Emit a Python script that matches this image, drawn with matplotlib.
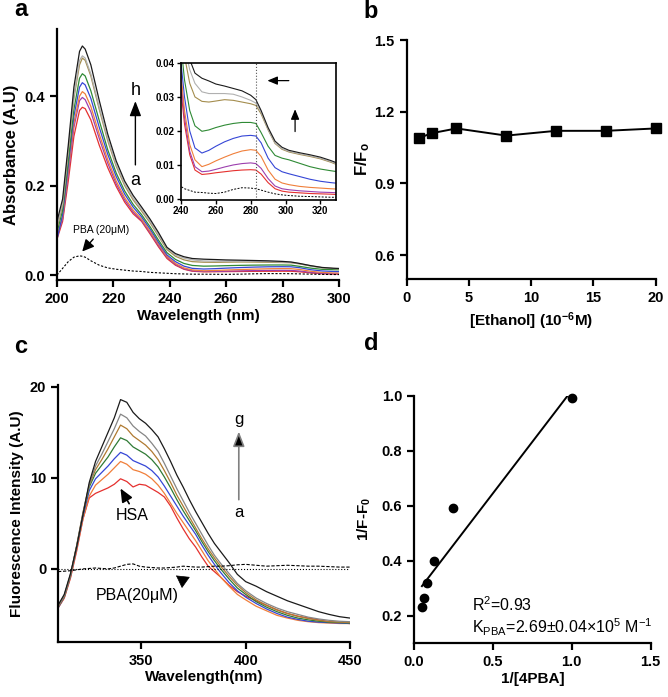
import matplotlib
matplotlib.use('Agg')
import matplotlib.pyplot as plt
import numpy as np

plt.rcParams['font.family'] = ['Liberation Sans', 'DejaVu Sans']
plt.rcParams['mathtext.fontset'] = 'custom'
plt.rcParams['mathtext.rm'] = 'Liberation Sans'
plt.rcParams['mathtext.bf'] = 'Liberation Sans:bold'
plt.rcParams['mathtext.it'] = 'Liberation Sans:italic'

# ---- panel a: UV-vis absorbance, curves a..h ----
wl_a = [200, 202, 204, 206, 208, 209, 210, 212, 215, 218, 221, 224, 227, 230, 233, 236, 239,
        242, 245, 248, 252, 256, 260, 265, 270, 275, 280, 283, 286, 290, 294, 298, 302, 308,
        314, 320, 326, 330]
abs_a = [0.08, 0.12, 0.21, 0.31, 0.368, 0.375, 0.372, 0.347, 0.29, 0.24, 0.198, 0.163, 0.137, 0.12,
         0.092, 0.063, 0.037, 0.022, 0.013, 0.0085, 0.0072, 0.0074, 0.0077, 0.008, 0.0083, 0.0085,
         0.0086, 0.0085, 0.0073, 0.0048, 0.003, 0.0023, 0.002, 0.0018, 0.0016, 0.0015, 0.0014, 0.0013]
abs_b = [0.085, 0.125, 0.225, 0.33, 0.39, 0.397, 0.392, 0.365, 0.305, 0.25, 0.204, 0.168, 0.141, 0.122,
         0.095, 0.066, 0.04, 0.024, 0.014, 0.0095, 0.008, 0.0082, 0.0087, 0.0094, 0.0100, 0.0104,
         0.0106, 0.0104, 0.009, 0.006, 0.0038, 0.003, 0.0027, 0.0024, 0.0022, 0.002, 0.0019, 0.0018]
abs_c = [0.085, 0.13, 0.235, 0.34, 0.40, 0.41, 0.405, 0.377, 0.315, 0.258, 0.21, 0.173, 0.145, 0.125,
         0.098, 0.069, 0.042, 0.026, 0.016, 0.0115, 0.0095, 0.0102, 0.0112, 0.0123, 0.0133, 0.0141,
         0.0145, 0.0143, 0.0125, 0.0085, 0.0058, 0.0047, 0.0042, 0.0037, 0.0034, 0.0032, 0.003, 0.0029]
abs_d = [0.08, 0.135, 0.245, 0.355, 0.42, 0.43, 0.425, 0.395, 0.33, 0.27, 0.22, 0.181, 0.152, 0.13,
         0.103, 0.073, 0.045, 0.03, 0.02, 0.015, 0.0135, 0.0143, 0.0155, 0.0168, 0.0178, 0.0185,
         0.0187, 0.0185, 0.0165, 0.012, 0.0092, 0.008, 0.0074, 0.0066, 0.0058, 0.0052, 0.0048, 0.0046]
abs_e = [0.095, 0.145, 0.255, 0.37, 0.44, 0.45, 0.445, 0.412, 0.345, 0.28, 0.228, 0.188, 0.158, 0.135,
         0.108, 0.078, 0.05, 0.035, 0.026, 0.0215, 0.0199, 0.0203, 0.021, 0.0217, 0.0222, 0.0225,
         0.0225, 0.0222, 0.0195, 0.0155, 0.0128, 0.012, 0.0115, 0.0105, 0.0095, 0.0088, 0.0083, 0.008]
abs_f = [0.105, 0.155, 0.275, 0.395, 0.47, 0.485, 0.48, 0.445, 0.37, 0.30, 0.243, 0.2, 0.168, 0.143,
         0.117, 0.087, 0.057, 0.042, 0.034, 0.030, 0.0287, 0.0285, 0.0288, 0.0292, 0.029, 0.0285,
         0.028, 0.0275, 0.025, 0.0203, 0.0163, 0.0146, 0.0138, 0.0131, 0.0125, 0.0118, 0.0108, 0.010]
abs_g = [0.11, 0.16, 0.28, 0.40, 0.48, 0.49, 0.485, 0.45, 0.375, 0.305, 0.247, 0.204, 0.172, 0.147,
         0.12, 0.09, 0.06, 0.045, 0.038, 0.034, 0.0315, 0.031, 0.031, 0.031, 0.0308, 0.030,
         0.029, 0.0282, 0.0255, 0.0205, 0.0165, 0.0148, 0.014, 0.0133, 0.0127, 0.012, 0.011, 0.0102]
abs_h = [0.12, 0.17, 0.29, 0.42, 0.50, 0.512, 0.505, 0.47, 0.39, 0.315, 0.255, 0.21, 0.178, 0.152,
         0.125, 0.095, 0.062, 0.048, 0.041, 0.037, 0.0355, 0.0347, 0.0338, 0.0332, 0.0325, 0.0318,
         0.0305, 0.0292, 0.026, 0.021, 0.017, 0.0152, 0.0143, 0.0136, 0.013, 0.0123, 0.0113, 0.0105]
abs_pba = [0.0, 0.015, 0.03, 0.04, 0.043, 0.042, 0.04, 0.032, 0.022, 0.016, 0.013, 0.011, 0.009, 0.008,
           0.006, 0.005, 0.004, 0.003, 0.0025, 0.002, 0.0019, 0.0017, 0.0016, 0.002, 0.0028, 0.0033,
           0.0032, 0.003, 0.0026, 0.002, 0.0015, 0.0012, 0.001, 0.0008, 0.0007, 0.0006, 0.0005, 0.0005]
abs_curves = [abs_a, abs_b, abs_c, abs_d, abs_e, abs_f, abs_g, abs_h]
abs_colors = ['#e5302e', '#9c3fae', '#f07f3a', '#3546d6', '#2f8a35', '#a48d4e', '#b0b0b0', '#1a1a1a']

# ---- panel b: ethanol control ----
ethanol = [1, 2, 4, 8, 12, 16, 20]
f_ratio = [1.09, 1.11, 1.13, 1.10, 1.12, 1.12, 1.13]

# ---- panel c: fluorescence, curves a..g ----
wl_c = [310, 313, 316, 319, 322, 325, 328, 331, 334, 337, 340, 343, 346, 349, 352, 355, 358, 361,
        364, 367, 370, 373, 376, 379, 382, 385, 388, 392, 396, 400, 405, 410, 415, 420, 425, 430,
        435, 440, 445, 450]
fl_a = [-4.3, -3.2, -1.0, 2.0, 5.5, 7.8, 8.3, 8.6, 8.9, 9.3, 9.9, 9.6, 9.0, 9.3, 9.2, 8.8, 8.4, 7.9,
        6.9, 5.6, 4.4, 3.3, 2.4, 1.3, 0.3, -0.3, -0.9, -1.8, -2.5, -3.0, -3.5, -4.0, -4.5, -4.9,
        -5.2, -5.4, -5.6, -5.8, -5.9, -6.0]
fl_b = [-4.3, -3.2, -0.9, 2.2, 5.5, 8.0, 9.2, 9.8, 10.4, 11.1, 11.8, 11.5, 10.9, 10.7, 10.4, 9.9,
        9.2, 8.3, 7.2, 6.1, 5.1, 4.1, 3.1, 2.0, 0.9, 0.0, -0.9, -1.9, -2.8, -3.4, -4.1, -4.6, -5.1,
        -5.4, -5.65, -5.8, -5.9, -5.95, -6.0, -6.0]
fl_c = [-4.3, -3.1, -0.8, 2.4, 5.8, 8.6, 9.9, 10.6, 11.3, 12.1, 12.8, 12.5, 11.9, 11.6, 11.3, 10.8,
        10.1, 9.1, 8.0, 6.9, 5.8, 4.8, 3.8, 2.6, 1.5, 0.5, -0.4, -1.5, -2.4, -3.1, -3.8, -4.4, -4.9,
        -5.3, -5.55, -5.75, -5.85, -5.9, -5.95, -6.0]
fl_d = [-4.2, -3.0, -0.7, 2.5, 6.0, 9.0, 10.5, 11.4, 12.3, 13.4, 14.4, 14.1, 13.4, 13.0, 12.6, 12.0,
        11.2, 10.1, 8.9, 7.6, 6.4, 5.3, 4.2, 3.0, 1.9, 0.9, 0.0, -1.1, -2.1, -2.8, -3.6, -4.2, -4.7,
        -5.1, -5.4, -5.6, -5.75, -5.85, -5.9, -5.95]
fl_e = [-4.2, -3.0, -0.7, 2.6, 6.2, 9.2, 10.9, 12.0, 13.2, 14.5, 15.8, 15.4, 14.6, 14.1, 13.6, 12.9,
        12.0, 10.8, 9.5, 8.1, 6.9, 5.7, 4.5, 3.3, 2.2, 1.2, 0.3, -0.8, -1.8, -2.6, -3.4, -4.0, -4.5,
        -4.9, -5.2, -5.45, -5.65, -5.8, -5.85, -5.9]
fl_f = [-4.1, -2.9, -0.6, 2.6, 6.2, 9.3, 11.3, 12.6, 14.0, 15.4, 17.0, 16.6, 15.7, 15.1, 14.6, 13.8,
        12.9, 11.6, 10.2, 8.8, 7.5, 6.2, 5.0, 3.8, 2.6, 1.5, 0.6, -0.5, -1.6, -2.4, -3.2, -3.8, -4.3,
        -4.7, -5.0, -5.3, -5.5, -5.65, -5.75, -5.8]
fl_g = [-4.0, -2.8, -0.5, 2.5, 6.0, 9.5, 11.8, 13.4, 15.0, 16.6, 18.6, 18.3, 17.2, 16.5, 16.0, 15.3,
        14.5, 13.2, 11.8, 10.3, 9.0, 7.6, 6.3, 5.1, 3.9, 2.8, 1.9, 0.7, -0.6, -1.4, -1.9, -2.5, -3.0,
        -3.5, -3.9, -4.3, -4.7, -5.0, -5.25, -5.4]
fl_pba = [-0.3, -0.25, -0.2, -0.1, 0.0, 0.05, 0.1, 0.05, 0.0, 0.1, 0.3, 0.5, 0.55, 0.3, 0.2, 0.15,
          0.1, 0.1, 0.15, 0.2, 0.3, 0.25, 0.2, 0.2, 0.25, 0.3, 0.3, 0.35, 0.45, 0.5, 0.4, 0.3, 0.35,
          0.4, 0.35, 0.3, 0.3, 0.25, 0.2, 0.2]
fl_curves = [fl_a, fl_b, fl_c, fl_d, fl_e, fl_f, fl_g]
fl_colors = ['#e5302e', '#f07f3a', '#3546d6', '#2f7a35', '#b07a30', '#858585', '#1a1a1a']

# ---- panel d: double reciprocal ----
inv_pba = [0.05, 0.0625, 0.083, 0.125, 0.25, 1.0]
inv_df = [0.23, 0.265, 0.32, 0.40, 0.59, 0.99]


def style_axes(ax, lw=1.6):
    for s in ['top', 'right']:
        ax.spines[s].set_visible(False)
    for s in ['left', 'bottom']:
        ax.spines[s].set_linewidth(lw)
    ax.tick_params(direction='out', width=lw, length=5, labelsize=10.5)
    for lab in ax.get_xticklabels() + ax.get_yticklabels():
        lab.set_fontweight('bold')


fig = plt.figure(figsize=(6.68, 6.97), dpi=100)

# panel a
ax1 = fig.add_axes([0.0853, 0.5983, 0.4222, 0.3601])
for y, c in zip(abs_curves, abs_colors):
    ax1.plot(wl_a, y, color=c, lw=0.9)
ax1.plot(wl_a, abs_pba, color='black', lw=0.8, ls=(0, (2, 1.5)))
ax1.set_xlim(200, 300)
ax1.set_ylim(-0.011, 0.55)
ax1.set_xticks([200, 220, 240, 260, 280, 300])
ax1.set_yticks([0.0, 0.2, 0.4])
ax1.set_xlabel('Wavelength (nm)', fontsize=11, fontweight='bold', labelpad=2)
ax1.set_ylabel('Absorbance (A.U)', fontsize=12, fontweight='bold', labelpad=4)
style_axes(ax1)
ax1.text(227.8, 0.412, 'h', fontsize=13, ha='center', va='center')
ax1.text(227.8, 0.212, 'a', fontsize=13, ha='center', va='center')
ax1.annotate('', xy=(227.8, 0.395), xytext=(227.8, 0.24),
             arrowprops=dict(arrowstyle='-|>,head_length=0.9,head_width=0.35', color='black', lw=1))
ax1.text(215.5, 0.10, 'PBA (20\u03bcM)', fontsize=7.5, ha='center', va='center')
ax1.annotate('', xy=(208.3, 0.048), xytext=(213.5, 0.085),
             arrowprops=dict(arrowstyle='-|>,head_length=0.7,head_width=0.35', color='black', lw=1))

# inset
axi = fig.add_axes([0.271, 0.7131, 0.232, 0.1966])
for y, c in zip(abs_curves, abs_colors):
    axi.plot(wl_a, y, color=c, lw=0.8)
axi.plot(wl_a, abs_pba, color='black', lw=0.7, ls=(0, (2, 1.5)))
axi.axvline(283, color='#555555', lw=0.8, ls=':')
axi.set_xlim(240, 329)
axi.set_ylim(-0.0003, 0.04)
axi.set_xticks([240, 260, 280, 300, 320])
axi.set_yticks([0.00, 0.01, 0.02, 0.03, 0.04])
axi.yaxis.set_major_formatter(matplotlib.ticker.FormatStrFormatter('%.2f'))
for s in axi.spines.values():
    s.set_linewidth(1.2)
axi.tick_params(direction='out', width=1, length=3, labelsize=7, pad=1.5)
for lab in axi.get_xticklabels() + axi.get_yticklabels():
    lab.set_fontweight('bold')
axi.annotate('', xy=(288, 0.0348), xytext=(303.5, 0.0348),
             arrowprops=dict(arrowstyle='-|>,head_length=0.6,head_width=0.25', color='black', lw=0.9))
axi.annotate('', xy=(305.5, 0.0272), xytext=(305.5, 0.019),
             arrowprops=dict(arrowstyle='-|>,head_length=0.6,head_width=0.25', color='black', lw=0.9))

# panel b
ax2 = fig.add_axes([0.6088, 0.5997, 0.3728, 0.3429])
ax2.plot(ethanol, f_ratio, color='black', lw=1.4, marker='s', ms=6.5, clip_on=False)
ax2.set_xlim(0, 20)
ax2.set_ylim(0.5, 1.5)
ax2.set_xticks([0, 5, 10, 15, 20])
ax2.set_yticks([0.6, 0.9, 1.2, 1.5])
ax2.set_xlabel('[Ethanol] (10$\\mathbf{^{-6}}$M)', fontsize=11, fontweight='bold', labelpad=4)
ax2.set_ylabel('F/F$_\\mathbf{o}$', fontsize=12, fontweight='bold', labelpad=2)
style_axes(ax2)

# panel c
ax3 = fig.add_axes([0.0868, 0.0793, 0.4371, 0.3683])
for y, c in zip(fl_curves, fl_colors):
    ax3.plot(wl_c, y, color=c, lw=0.9)
ax3.plot(wl_c, fl_pba, color='black', lw=0.8, ls=(0, (3, 1.5)))
ax3.axhline(0, color='black', lw=0.8, ls=':')
ax3.set_xlim(310, 450)
ax3.set_ylim(-8, 20.2)
ax3.set_xticks([350, 400, 450])
ax3.set_yticks([0, 10, 20])
ax3.set_xlabel('Wavelength(nm)', fontsize=11, fontweight='bold', labelpad=2)
ax3.set_ylabel('Fluorescence Intensity (A.U)', fontsize=11, fontweight='bold', labelpad=4)
style_axes(ax3)
ax3.text(396.7, 16.4, 'g', fontsize=12, ha='center', va='center')
ax3.text(396.7, 6.2, 'a', fontsize=12, ha='center', va='center')
ax3.annotate('', xy=(396.7, 15.4), xytext=(396.7, 7.3),
             arrowprops=dict(arrowstyle='-|>,head_length=0.9,head_width=0.35', color='#808080',
                             fc='black', lw=1.2))
ax3.text(345.7, 5.9, 'HSA', fontsize=11.5, ha='center', va='center')
ax3.annotate('', xy=(339.3, 9.1), xytext=(344.8, 6.9),
             arrowprops=dict(arrowstyle='-|>,head_length=0.8,head_width=0.35', color='black', lw=1.2))
ax3.text(348, -2.9, 'PBA(20\u03bcM)', fontsize=11.5, ha='center', va='center')
ax3.annotate('', xy=(365.5, -0.55), xytext=(369.5, -1.2),
             arrowprops=dict(arrowstyle='-|>,head_length=0.8,head_width=0.45', color='black', lw=0.5))

# panel d
ax4 = fig.add_axes([0.6198, 0.0775, 0.3543, 0.3548])
ax4.plot(inv_pba, inv_df, 'o', color='black', ms=6, clip_on=False)
slope, icpt = np.polyfit(inv_pba, inv_df, 1)
xfit = np.array([min(inv_pba), 0.97])
ax4.plot(xfit, slope * xfit + icpt, color='black', lw=1.4)
ax4.set_xlim(0, 1.5)
ax4.set_ylim(0.1, 1.0)
ax4.set_xticks([0.0, 0.5, 1.0, 1.5])
ax4.set_yticks([0.2, 0.4, 0.6, 0.8, 1.0])
ax4.set_xlabel('1/[4PBA]', fontsize=11, fontweight='bold', labelpad=2)
ax4.set_ylabel('1/F-F$_\\mathbf{0}$', fontsize=11, fontweight='bold', labelpad=6)
style_axes(ax4)
ax4.text(0.37, 0.240, 'R$^2$=0.93', fontsize=11.5, ha='left', va='center')
ax4.text(0.37, 0.158, 'K$_\\mathregular{PBA}$=2.69\u00b10.04\u00d710$^5$ M$^{-1}$', fontsize=11.5,
         ha='left', va='center')

# panel letters
for lbl, x, y in [('a', 21, 10), ('b', 371, 12), ('c', 21, 347), ('d', 371, 343)]:
    fig.text(x / 668, 1 - y / 697, lbl, fontsize=17, fontweight='bold', ha='center', va='center')

fig.savefig('out.png', dpi=100)
